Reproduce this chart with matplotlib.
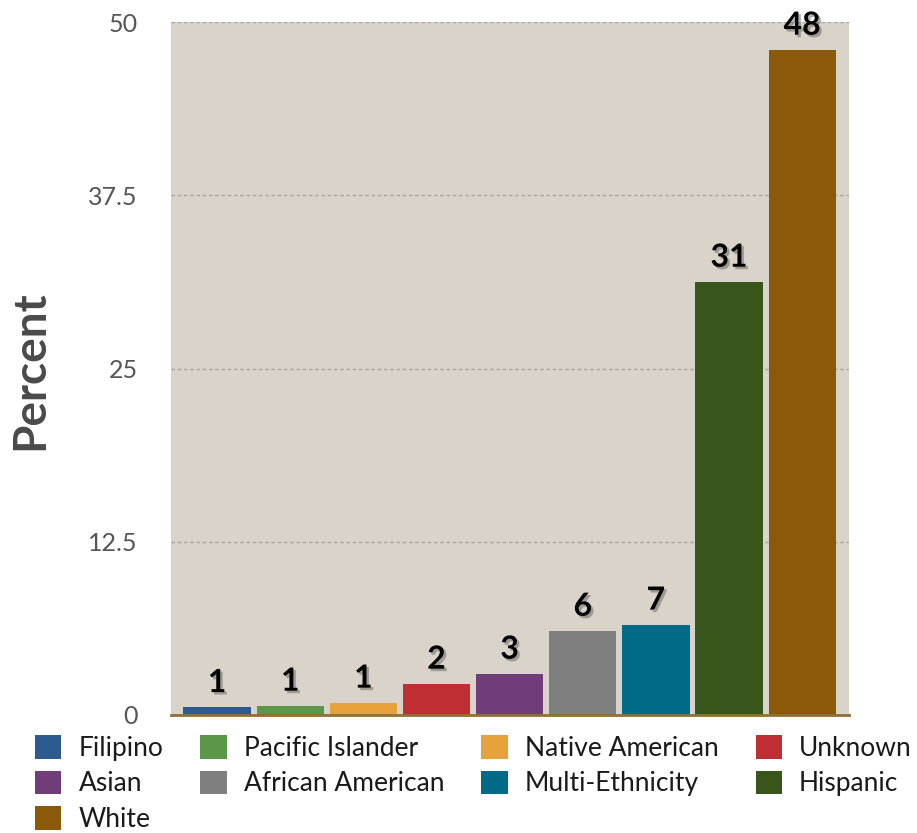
import math
import matplotlib
matplotlib.use("Agg")
import matplotlib.pyplot as plt
import matplotlib.patheffects as pe
from matplotlib.patches import Patch

groups = ["Filipino", "Pacific Islander", "Native American", "Unknown", "Asian",
          "African American", "Multi-Ethnicity", "Hispanic", "White"]
percent = [0.55, 0.65, 0.87, 2.24, 2.96, 6.06, 6.5, 31.24, 47.98]
colors = ["#2e5b8e", "#5b9748", "#e8a23c", "#bf2e33", "#6f3d7a",
          "#7f7f7f", "#006a87", "#38551c", "#8a5a0a"]
yticks = [0, 12.5, 25, 37.5, 50]
ytick_labels = ["0", "12.5", "25", "37.5", "50"]

plt.rcParams["font.family"] = ["Lato", "DejaVu Sans"]

fig = plt.figure(figsize=(9.17, 8.33), dpi=100)
ax = fig.add_axes([171 / 917, 118 / 833, 678 / 917, 693 / 833])
ax.set_facecolor("#d9d3ca")

x = list(range(len(groups)))
bars = ax.bar(x, percent, width=0.92, color=colors, zorder=3)

# rounded value labels with a soft drop shadow
shadow = [pe.withSimplePatchShadow(offset=(1.8, -1.8), shadow_rgbFace="#555555", alpha=0.45)]
for xi, v in zip(x, percent):
    ax.annotate(str(math.floor(v + 0.5)), (xi, v), xytext=(0, 11), textcoords="offset points",
                ha="center", va="baseline", fontsize=23, fontweight="bold", color="black",
                path_effects=shadow, zorder=5, annotation_clip=False)

ax.set_xlim(-0.63, 8.64)
ax.set_ylim(0, 50)
ax.set_xticks([])
ax.set_yticks(yticks)
ax.set_yticklabels(ytick_labels)
ax.tick_params(axis="y", length=0, pad=24, labelsize=18, labelcolor="#555555")

for t in yticks[1:]:
    ax.axhline(t, color="#a8a4a0", lw=1, ls=(0, (2.5, 2)), zorder=1)

for s in ["top", "right", "left"]:
    ax.spines[s].set_visible(False)
ax.spines["bottom"].set_color("#8f7035")
ax.spines["bottom"].set_linewidth(2)
ax.spines["bottom"].set_zorder(4)

fig.text(30 / 917, 1 - 370 / 833, "Percent", rotation=90, ha="center", va="center",
         fontsize=33, fontweight="bold", color="#4a4a4a")

# legend reads row by row, matplotlib fills column by column
order = [0, 4, 8, 1, 5, 2, 6, 3, 7]
handles = [Patch(facecolor=colors[i], edgecolor="none") for i in order]
labels = [groups[i] for i in order]
fig.legend(handles, labels, ncol=4, loc="upper left", bbox_to_anchor=(35 / 917, 1 - 735 / 833),
           frameon=False, fontsize=19, handlelength=1.0, handleheight=1.0,
           handletextpad=0.65, columnspacing=1.4, labelspacing=0.37, borderpad=0,
           borderaxespad=0, labelcolor="#1a1a1a")

fig.savefig("out.png", dpi=100)
